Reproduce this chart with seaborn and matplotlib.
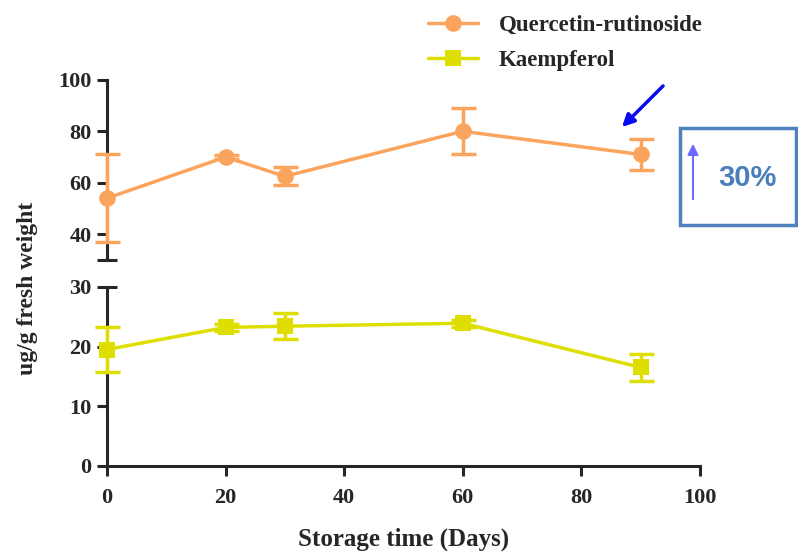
import numpy as np
import pandas as pd
import seaborn as sns
import matplotlib.pyplot as plt
from matplotlib.patches import Rectangle, FancyArrowPatch

days = [0, 20, 30, 60, 90]
quercetin = [54, 70, 62.5, 80, 71]
quercetin_err = [17, 0.8, 3.5, 9, 6]
kaempferol = [19.5, 23.2, 23.4, 23.9, 16.5]
kaempferol_err = [3.8, 0.6, 2.2, 0.6, 2.3]

orange = '#FBA45E'
yellow = '#DEDE00'

sns.set_style('ticks')
plt.rcParams['font.family'] = ['Liberation Serif', 'DejaVu Serif']
plt.rcParams['font.weight'] = 'bold'

df = pd.DataFrame({'days': days, 'quercetin': quercetin, 'kaempferol': kaempferol})

fig = plt.figure(figsize=(7.98, 5.58), dpi=100)
ax_top = fig.add_axes([0.134, 0.534, 0.743, 0.323])
ax_bot = fig.add_axes([0.134, 0.165, 0.743, 0.321])

# top segment: quercetin
sns.lineplot(data=df, x='days', y='quercetin', ax=ax_top, color=orange, lw=2.5,
             marker='o', markersize=12, markeredgewidth=0, label='Quercetin-rutinoside',
             clip_on=False, zorder=3)
ax_top.errorbar(days, quercetin, yerr=quercetin_err, fmt='none', ecolor=orange,
                elinewidth=2.5, capsize=9, capthick=2.5, clip_on=False, zorder=3)

# bottom segment: kaempferol
sns.lineplot(data=df, x='days', y='kaempferol', ax=ax_bot, color=yellow, lw=2.5,
             marker='s', markersize=12, markeredgewidth=0, label='Kaempferol',
             clip_on=False, zorder=3)
ax_bot.errorbar(days, kaempferol, yerr=kaempferol_err, fmt='none', ecolor=yellow,
                elinewidth=2.5, capsize=9, capthick=2.5, clip_on=False, zorder=3)

for ax in (ax_top, ax_bot):
    ax.set_xlim(0, 100)
    ax.set_xlabel('')
    ax.set_ylabel('')
    ax.spines['top'].set_visible(False)
    ax.spines['right'].set_visible(False)
    ax.spines['left'].set_linewidth(2.2)
    ax.spines['bottom'].set_linewidth(2.2)
    ax.tick_params(axis='both', which='major', width=2.2, length=7, labelsize=16, pad=4)
    ax.tick_params(axis='y', which='minor', direction='inout', length=14, width=2.2,
                   labelsize=16, pad=4)
    ax.get_legend().remove()

ax_top.set_ylim(30, 100)
ax_top.set_yticks([40, 60, 80, 100], labels=['40', '60', '80', '100'], fontweight='bold')
ax_top.set_yticks([30], labels=[''], minor=True)
ax_top.spines['bottom'].set_visible(False)
ax_top.tick_params(axis='x', bottom=False, labelbottom=False)

ax_bot.set_ylim(0, 30)
ax_bot.set_yticks([0, 10, 20], labels=['0', '10', '20'], fontweight='bold')
ax_bot.set_yticks([30], labels=['30'], minor=True, fontweight='bold')
ax_bot.set_xticks([0, 20, 40, 60, 80, 100], labels=['0', '20', '40', '60', '80', '100'],
                  fontweight='bold')
ax_bot.tick_params(axis='x', pad=9)
ax_bot.set_xlabel('Storage time (Days)', fontsize=18, fontweight='bold', labelpad=14)

fig.text(0.034, 0.484, 'ug/g fresh weight', rotation=90, ha='center', va='center',
         fontsize=17, fontweight='bold')

# legend
h1, l1 = ax_top.get_legend_handles_labels()
h2, l2 = ax_bot.get_legend_handles_labels()
fig.legend(h1 + h2, l1 + l2, loc='upper left', bbox_to_anchor=(0.51, 1.01),
           frameon=False, prop={'weight': 'bold', 'size': 16.5}, handlelength=2.2,
           labelspacing=0.6, handletextpad=0.9)

# annotation arrow and box
fig.patches.append(FancyArrowPatch((665 / 798, 1 - 84 / 558), (620 / 798, 1 - 129 / 558),
                                   transform=fig.transFigure, arrowstyle='-|>',
                                   mutation_scale=18, color='#0A0AF0', lw=2.5))
fig.patches.append(Rectangle((680 / 798, 1 - 225 / 558), 116 / 798, 97 / 558,
                             transform=fig.transFigure, fill=False,
                             edgecolor='#4F81BD', lw=2.5))
fig.patches.append(FancyArrowPatch((693 / 798, 1 - 202 / 558), (693 / 798, 1 - 141 / 558),
                                   transform=fig.transFigure, arrowstyle='-|>',
                                   mutation_scale=16, color='#6B6BFF', lw=1.5))
fig.text(747 / 798, 1 - 178 / 558, '30%', ha='center', va='center', fontsize=21,
         fontweight='bold', color='#4A7EBB', family=['Liberation Sans', 'DejaVu Sans'])

fig.savefig('out.png', dpi=100)
